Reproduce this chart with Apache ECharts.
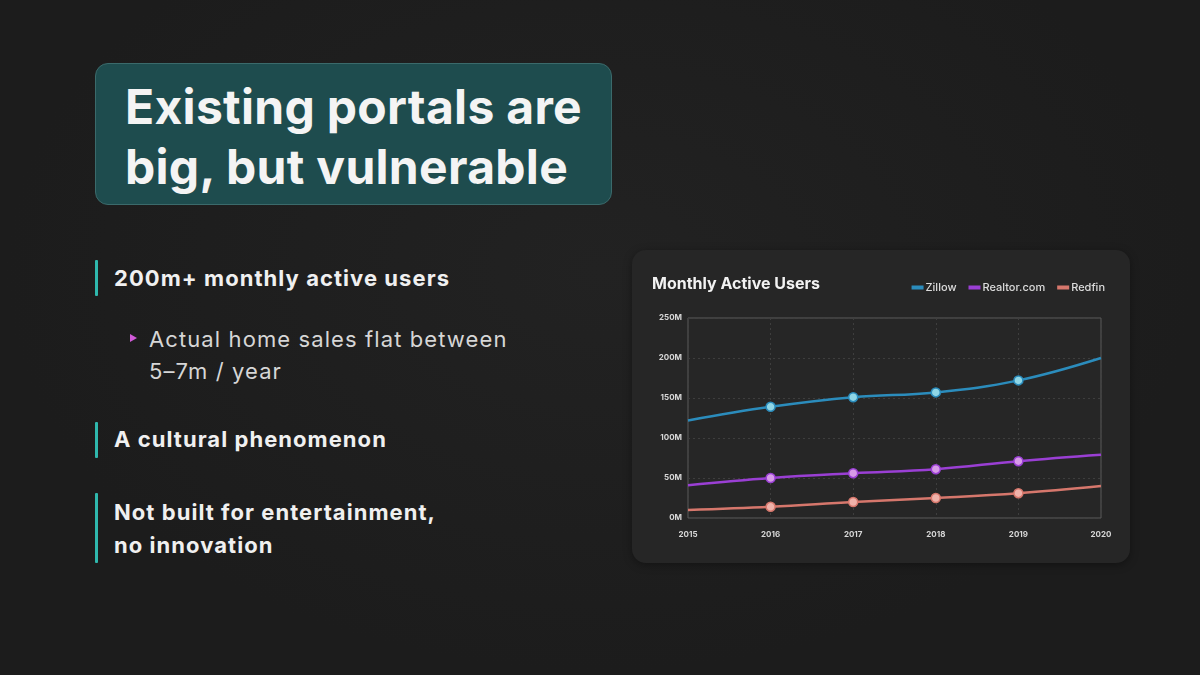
<!DOCTYPE html>
<html><head><meta charset="utf-8">
<script src="https://cdn.jsdelivr.net/npm/echarts@6/dist/echarts.min.js"></script>
<style>
html,body{margin:0;padding:0;width:1200px;height:675px;overflow:hidden;background:#1d1d1d;font-family:Inter,"Noto Sans",sans-serif;}
#slide{position:relative;width:1200px;height:675px;background:radial-gradient(ellipse at 50% 40%,#222 0%,#1c1c1c 70%);}
.titlebox{position:absolute;left:95px;top:63px;width:517px;height:142px;background:#1e4c4e;border:1.5px solid #3b6a6b;border-radius:13px;box-sizing:border-box;}
.titlebox div{position:absolute;left:29px;color:#f4f4f4;font-weight:700;font-size:48px;letter-spacing:0.3px;white-space:nowrap;line-height:1;}
.bar{position:absolute;left:95px;width:3px;background:#2fb8ad;border-radius:1px;}
.b{position:absolute;left:114px;color:#f0f0f0;font-weight:700;font-size:22px;letter-spacing:1.05px;white-space:nowrap;line-height:1;}
.s{position:absolute;left:149px;color:#d6d6d6;font-weight:400;font-size:22px;letter-spacing:1.1px;white-space:nowrap;line-height:1;}
.tri{position:absolute;left:130px;top:334px;width:0;height:0;border-left:7px solid #d05ad8;border-top:4.5px solid transparent;border-bottom:4.5px solid transparent;}
#card{position:absolute;left:632px;top:250px;width:498px;height:313px;background:#262626;border-radius:14px;box-shadow:0 2px 8px rgba(0,0,0,0.35);}
#chart{position:absolute;left:0;top:0;width:498px;height:313px;}
</style></head>
<body><div id="slide">
<div class="titlebox">
<div style="top:19px;">Existing portals are</div>
<div style="top:79px;">big, but vulnerable</div>
</div>
<div class="bar" style="top:260px;height:36px;"></div>
<div class="b" style="top:267px;">200m+ monthly active users</div>
<div class="tri"></div>
<div class="s" style="top:328px;">Actual home sales flat between</div>
<div class="s" style="top:360px;">5–7m / year</div>
<div class="bar" style="top:422px;height:36px;"></div>
<div class="b" style="top:428px;">A cultural phenomenon</div>
<div class="bar" style="top:493px;height:70px;"></div>
<div class="b" style="top:501px;">Not built for entertainment,</div>
<div class="b" style="top:534px;">no innovation</div>
<div id="card"><div id="chart"></div></div>
</div>
<script>
const years = ['2015','2016','2017','2018','2019','2020'];
const zillow = [122, 139, 151, 157, 172, 200];
const realtor = [41, 50, 56, 61, 71, 79];
const redfin = [10, 14, 20, 25, 31, 40];
const seriesNames = ['Zillow','Realtor.com','Redfin'];
const lineColors = ['#2b8cbc','#9a3fd4','#d6776c'];
const markerFill = ['#8fd6e6','#d79be8','#efb2aa'];

function withMarkers(arr){
  return arr.map((v,i)=> (i===0||i===arr.length-1) ? {value:v, symbol:'none'} : v);
}
const chart = echarts.init(document.getElementById('chart'), null, {renderer:'canvas'});
const datas = [zillow, realtor, redfin];
chart.setOption({
  backgroundColor:'transparent',
  animation:false,
  title:{text:'Monthly Active Users',left:15,top:21,textStyle:{color:'#f2f2f2',fontFamily:'Inter',fontWeight:700,fontSize:16,letterSpacing:0}},
  legend:{right:20,top:27,itemWidth:10,itemHeight:2,itemGap:12,icon:'rect',
    textStyle:{color:'#dcdcdc',fontFamily:'Inter',fontWeight:500,fontSize:11,padding:[0,0,0,-2]},data:seriesNames},
  grid:{left:56,right:29,top:68,bottom:45,show:true,borderColor:'#5a5a5a',borderWidth:1},
  xAxis:{type:'category',data:years,boundaryGap:false,
    axisLine:{show:false},axisTick:{show:false},
    axisLabel:{color:'#d8d8d8',fontFamily:'Inter',fontWeight:700,fontSize:8,margin:13},
    splitLine:{show:true,lineStyle:{color:'#3e3e3e',type:[2,3]}}},
  yAxis:{type:'value',min:0,max:250,interval:50,
    axisLine:{show:false},axisTick:{show:false},
    axisLabel:{color:'#d8d8d8',fontFamily:'Inter',fontWeight:700,fontSize:8,margin:6,formatter:v=>v+'M'},
    splitLine:{show:true,lineStyle:{color:'#3e3e3e',type:[2,3]}}},
  series: seriesNames.map((n,k)=>({
    name:n,type:'line',smooth:0.4,data:withMarkers(datas[k]),
    symbol:'circle',symbolSize:9,
    lineStyle:{color:lineColors[k],width:2.5},
    itemStyle:{color:markerFill[k],borderColor:lineColors[k],borderWidth:1.5},
    color:lineColors[k]
  }))
});
</script>
</body></html>
